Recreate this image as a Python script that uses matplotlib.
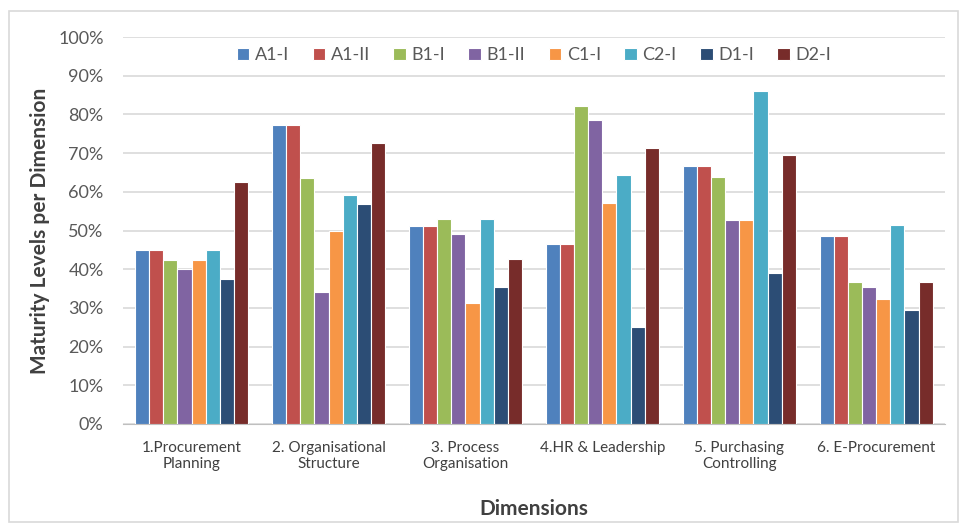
import numpy as np
import matplotlib.pyplot as plt
from matplotlib.patches import Rectangle
from matplotlib.ticker import PercentFormatter

plt.rcParams['font.family'] = ['Lato', 'DejaVu Sans']

dimensions = ['1.Procurement\nPlanning', '2. Organisational\nStructure', '3. Process\nOrganisation',
              '4.HR & Leadership', '5. Purchasing\nControlling', '6. E-Procurement']
series = ['A1-I', 'A1-II', 'B1-I', 'B1-II', 'C1-I', 'C2-I', 'D1-I', 'D2-I']
colors = ['#4F81BD', '#C0504D', '#9BBB59', '#8064A2', '#F79646', '#4BACC6', '#2C4D75', '#772C2A']

# maturity level per series, one value per dimension (fraction)
a1_i = [0.450, 0.773, 0.511, 0.464, 0.667, 0.485]
a1_ii = [0.450, 0.773, 0.511, 0.464, 0.667, 0.485]
b1_i = [0.425, 0.636, 0.531, 0.821, 0.639, 0.368]
b1_ii = [0.400, 0.341, 0.490, 0.786, 0.528, 0.353]
c1_i = [0.425, 0.500, 0.313, 0.571, 0.528, 0.324]
c2_i = [0.450, 0.591, 0.531, 0.643, 0.861, 0.515]
d1_i = [0.375, 0.568, 0.354, 0.250, 0.389, 0.294]
d2_i = [0.625, 0.727, 0.427, 0.714, 0.694, 0.368]
values = [a1_i, a1_ii, b1_i, b1_ii, c1_i, c2_i, d1_i, d2_i]

fig = plt.figure(figsize=(9.62, 5.25), dpi=100)
ax = fig.add_axes([0.128, 0.1924, 0.854, 0.7371])

x = np.arange(len(dimensions))
w = 0.103
for i, (name, vals) in enumerate(zip(series, values)):
    ax.bar(x + (i - 3.5) * w, vals, width=w, color=colors[i], edgecolor='white',
           linewidth=0.8, label=name, zorder=3)

ax.set_ylim(0, 1.0)
ax.set_xlim(-0.5, len(dimensions) - 0.5)
ax.set_yticks(np.arange(0, 1.01, 0.1))
ax.yaxis.set_major_formatter(PercentFormatter(1.0, decimals=0))
ax.grid(axis='y', color='#d9d9d9', linewidth=1.2, zorder=0)
ax.set_xticks(x)
ax.set_xticklabels(dimensions, fontsize=11, color='#404040', linespacing=1.25)
ax.tick_params(axis='y', labelsize=13, colors='#595959', length=0, pad=14)
ax.tick_params(axis='x', length=0, pad=12)
for s in ['top', 'right', 'left']:
    ax.spines[s].set_visible(False)
ax.spines['bottom'].set_color('#bfbfbf')

ax.set_ylabel('Maturity Levels per Dimension', fontsize=15, fontweight='bold', color='#404040', labelpad=6)
ax.set_xlabel('Dimensions', fontsize=15, fontweight='bold', color='#404040', labelpad=20)

leg = ax.legend(loc='upper center', bbox_to_anchor=(0.5, 1.015), ncol=8, frameon=False,
                fontsize=13, handlelength=0.7, handleheight=0.7, handletextpad=0.3,
                columnspacing=1.3)
for t in leg.get_texts():
    t.set_color('#595959')

fig.patches.append(Rectangle((0.009, 0.006), 0.987, 0.973, transform=fig.transFigure,
                             fill=False, edgecolor='#d9d9d9', linewidth=1.2))

fig.savefig('out.png', dpi=100)
